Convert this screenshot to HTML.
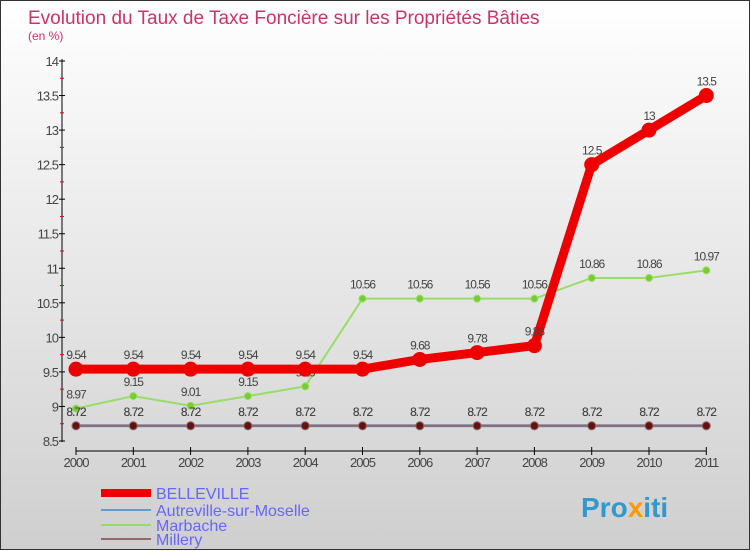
<!DOCTYPE html>
<html><head><meta charset="utf-8"><style>
body{margin:0;width:750px;height:550px;overflow:hidden;font-family:"Liberation Sans",sans-serif}
#wrap{position:relative;width:748px;height:548px;border:1px solid #333;background:linear-gradient(#ffffff,#cfcfcf)}
svg{position:absolute;left:0;top:0}
</style></head><body>
<div id="wrap">
<svg id="c" width="750" height="550">
<text x="27" y="23" font-size="19" fill="#cc3366">Evolution du Taux de Taxe Foncière sur les Propriétés Bâties</text>
<text x="27" y="39" font-size="12" fill="#cc3366">(en %)</text>
<g id="axes"></g><g id="series"></g>
<g>
<rect x="100" y="488" width="50" height="8" fill="#ee0000"/>
<text x="155" y="498" font-size="16" fill="#6666ff">BELLEVILLE</text>
<rect x="100" y="508" width="50" height="2" fill="#6699cc"/>
<text x="155" y="515" font-size="16" fill="#6666ff">Autreville-sur-Moselle</text>
<rect x="100" y="523" width="50" height="2" fill="#99dd66"/>
<text x="155" y="530" font-size="16" fill="#6666ff">Marbache</text>
<rect x="100" y="537" width="50" height="2" fill="#996666"/>
<text x="155" y="544" font-size="16" fill="#6666ff">Millery</text>
</g>
<text x="580" y="516" font-size="28" font-weight="bold" fill="#3399cc">Pro<tspan fill="#ff9900">x</tspan>iti</text>
</svg>
</div>
<script>
const years=[2000,2001,2002,2003,2004,2005,2006,2007,2008,2009,2010,2011];
const belleville=[9.54,9.54,9.54,9.54,9.54,9.54,9.68,9.78,9.88,12.5,13,13.5];
const autreville=[8.72,8.72,8.72,8.72,8.72,8.72,8.72,8.72,8.72,8.72,8.72,8.72];
const marbache=[8.97,9.15,9.01,9.15,9.29,10.56,10.56,10.56,10.56,10.86,10.86,10.97];
const millery=[8.72,8.72,8.72,8.72,8.72,8.72,8.72,8.72,8.72,8.72,8.72,8.72];
const yTicks=[8.5,9,9.5,10,10.5,11,11.5,12,12.5,13,13.5,14];
const NS="http://www.w3.org/2000/svg";
const x=i=>75+i*57.3;
const y=v=>440-(v-8.5)*(380/5.5);
function mk(t,a,p){const e=document.createElementNS(NS,t);for(const k in a)e.setAttribute(k,a[k]);p.appendChild(e);return e;}
const ax=document.getElementById('axes'),se=document.getElementById('series');
let l=mk('line',{x1:61,y1:58,x2:61,y2:441,stroke:'#000'},ax);


yTicks.forEach((v,i)=>{
 let t=mk('line',{x1:58,x2:64,y1:y(v),y2:y(v),stroke:'#000'},ax);
 
 
 if(i<yTicks.length-1){let m=mk('line',{x1:59,x2:63,y1:y(v+0.25),y2:y(v+0.25),stroke:'#e00'},ax);
 
 }
 let tx=mk('text',{x:57,y:y(v)+5,'text-anchor':'end','font-size':13,fill:'#444','letter-spacing':'-1'},ax);
 tx.textContent=v;
 
 
});
let xl=mk('line',{x1:x(0),x2:x(11),y1:450,y2:450,stroke:'#000'},ax);


years.forEach((yr,i)=>{
 let t=mk('line',{x1:x(i),x2:x(i),y1:446,y2:454,stroke:'#000'},ax);
 
 
 let tx=mk('text',{x:x(i),y:466,'text-anchor':'middle','font-size':13,fill:'#444','letter-spacing':'-1'},ax);
 tx.textContent=yr;
 
 
});
function series(d,name,col,w,r,dot,lab){
 const g=mk('g',{},se);
 
 
 const p=mk('polyline',{points:d.map((v,i)=>x(i)+','+y(v)).join(' '),fill:'none',stroke:col,'stroke-width':w,'stroke-linejoin':'round'},g);
 
 
 d.forEach((v,i)=>{
  const c=mk('circle',{cx:x(i),cy:y(v),r:r,fill:dot,stroke:col,'stroke-width':1},g);
  
  
  if(lab){const t=mk('text',{x:x(i),y:y(v)-10,'text-anchor':'middle','font-size':12,fill:'#444','letter-spacing':'-1'},g);
  t.textContent=v;
  
  }
 });
}
series(marbache,'marbache','#99dd66',2,3.5,'#77cc33',true);
series(autreville,'autreville','#6699cc',3,4,'#225588',true);
series(millery,'millery','#996666',2,4,'#661111',true);
series(belleville,'belleville','#ee0000',9,7,'#ee0000',true);
</script>
</body></html>
